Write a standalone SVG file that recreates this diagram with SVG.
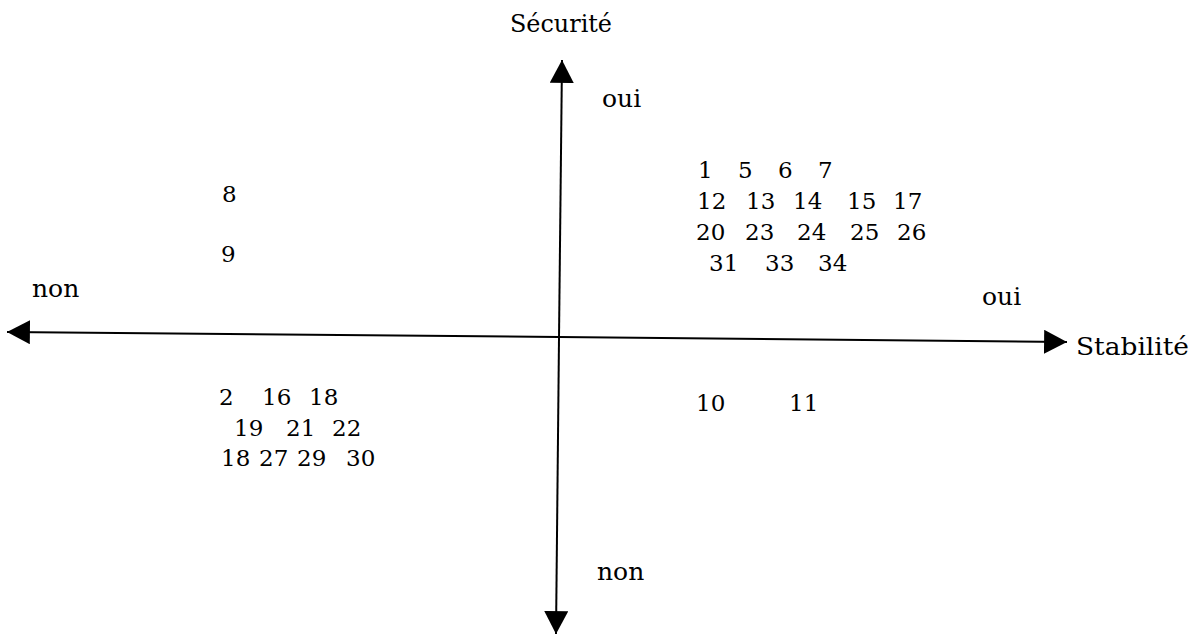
<svg xmlns="http://www.w3.org/2000/svg" width="1204" height="636" viewBox="0 0 1204 636">
  <style>
    text { font-family: "DejaVu Serif", serif; fill: #000; }
    .lbl { font-size: 25px; }
    .num { font-size: 23px; }
    .axis { stroke: #000; stroke-width: 2; fill: none; }
  </style>
  <defs>
    <marker id="arrow" markerUnits="userSpaceOnUse" markerWidth="24" markerHeight="24" viewBox="0 0 22 22" refX="21" refY="11" orient="auto">
      <path d="M0,0 L21,11 L0,22 Z" fill="#000"/>
    </marker>
  </defs>
  <rect width="1204" height="636" fill="#fff"/>

  <!-- axes -->
  <g id="connectors">
    <line class="axis" x1="559" y1="338" x2="562" y2="60" marker-end="url(#arrow)"/>
    <line class="axis" x1="559" y1="338" x2="556" y2="634" marker-end="url(#arrow)"/>
    <line class="axis" x1="559" y1="337" x2="7" y2="332" marker-end="url(#arrow)"/>
    <line class="axis" x1="559" y1="337" x2="1067" y2="342" marker-end="url(#arrow)"/>
  </g>

  <!-- axis titles and poles -->
  <g id="axis-securite" class="lbl">
    <text x="510" y="32" textLength="102" lengthAdjust="spacingAndGlyphs">Sécurité</text>
    <text x="602" y="107">oui</text>
    <text x="597" y="580">non</text>
  </g>
  <g id="axis-stabilite" class="lbl">
    <text x="1076" y="355" textLength="113" lengthAdjust="spacingAndGlyphs">Stabilité</text>
    <text x="982" y="305">oui</text>
    <text x="32" y="297">non</text>
  </g>

  <!-- upper right quadrant -->
  <g id="quadrant-oui-oui" class="num">
    <text x="698" y="178">1</text>
    <text x="738" y="178">5</text>
    <text x="778" y="178">6</text>
    <text x="818" y="178">7</text>
    <text x="697" y="209">12</text>
    <text x="746" y="209">13</text>
    <text x="793" y="209">14</text>
    <text x="847" y="209">15</text>
    <text x="893" y="209">17</text>
    <text x="696" y="240">20</text>
    <text x="745" y="240">23</text>
    <text x="797" y="240">24</text>
    <text x="850" y="240">25</text>
    <text x="897" y="240">26</text>
    <text x="709" y="271">31</text>
    <text x="765" y="271">33</text>
    <text x="818" y="271">34</text>
  </g>

  <!-- upper left quadrant -->
  <g id="quadrant-non-oui" class="num">
    <text x="222" y="202">8</text>
    <text x="221" y="262">9</text>
  </g>

  <!-- lower left quadrant -->
  <g id="quadrant-non-non" class="num">
    <text x="219" y="405">2</text>
    <text x="262" y="405">16</text>
    <text x="309" y="405">18</text>
    <text x="234" y="436">19</text>
    <text x="286" y="436">21</text>
    <text x="332" y="436">22</text>
    <text x="221" y="466">18</text>
    <text x="259" y="466">27</text>
    <text x="297" y="466">29</text>
    <text x="346" y="466">30</text>
  </g>

  <!-- lower right quadrant -->
  <g id="quadrant-oui-non" class="num">
    <text x="696" y="411">10</text>
    <text x="789" y="411">11</text>
  </g>
</svg>
